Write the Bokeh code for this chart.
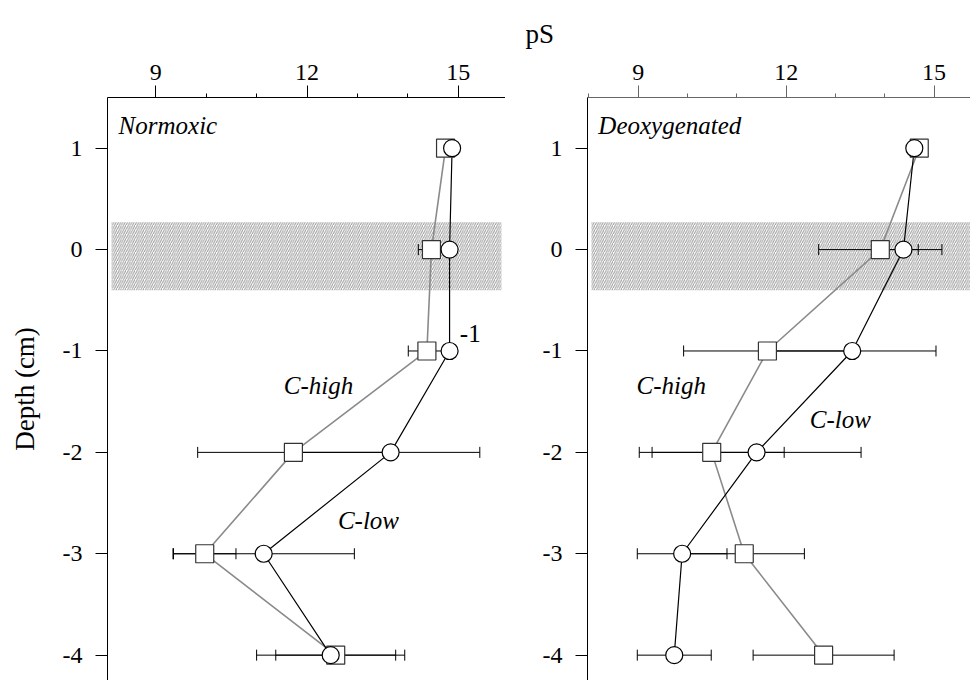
from bokeh.plotting import figure
from bokeh.models import (ColumnDataSource, Range1d, FixedTicker, Whisker, TeeHead,
                          BoxAnnotation, Label, Title)
from bokeh.layouts import row
from bokeh.embed import file_html
from bokeh.resources import INLINE

# ---------------- data ----------------
depth = [1, 0, -1, -2, -3, -4]

# Normoxic panel
norm_high = [14.75, 14.47, 14.38, 11.73, 9.97, 12.57]     # squares (C-high)
norm_high_sd = [0.0, 0.26, 0.37, 1.90, 0.62, 1.19]
norm_low = [14.88, 14.83, 14.83, 13.66, 11.14, 12.47]     # circles (C-low)
norm_low_sd = [0.0, 0.0, 0.0, 1.77, 1.80, 1.47]

# Deoxygenated panel
deox_high = [14.70, 13.91, 11.62, 10.49, 11.15, 12.76]    # squares (C-high)
deox_high_sd = [0.0, 1.25, 1.70, 1.47, 1.22, 1.43]
deox_low = [14.60, 14.38, 13.34, 11.40, 9.89, 9.73]       # circles (C-low)
deox_low_sd = [0.0, 0.30, 1.70, 2.12, 0.91, 0.75]

band_top, band_bottom = 0.27, -0.40
major_ticks = [9, 12, 15]
minor_ticks = [8, 10, 11, 13, 14, 16]
depth_ticks = [1, 0, -1, -2, -3, -4]
depth_labels = ["1", "0", "-1", "-2", "-3", "-4"]

FONT = "Liberation Serif"
GREY = "#8a8a8a"


def make_panel(width, border_left, xr, high, high_sd, low, low_sd, band_left, band_right,
               axis_color, title=None):
    kw = {}
    if title is not None:
        kw["title"] = title
    p = figure(width=width, height=680, x_range=Range1d(*xr), y_range=Range1d(-4.25, 1.5),
               x_axis_location="above", output_backend="svg", toolbar_location=None,
               min_border_left=border_left, min_border_right=0, min_border_top=97,
               min_border_bottom=0, **kw)
    p.outline_line_color = None
    p.grid.visible = False
    p.background_fill_color = "white"
    p.border_fill_color = "white"

    xa = p.xaxis[0]
    xa.ticker = FixedTicker(ticks=major_ticks, minor_ticks=minor_ticks)
    xa.major_tick_out = 12
    xa.major_tick_in = 0
    xa.minor_tick_out = 4
    xa.minor_tick_in = 0
    xa.major_label_standoff = 6
    xa.major_label_text_font = FONT
    xa.major_label_text_font_size = "24px"
    xa.major_label_text_color = "black"
    xa.axis_line_color = axis_color
    xa.major_tick_line_color = axis_color
    xa.minor_tick_line_color = axis_color

    ya = p.yaxis[0]
    ya.ticker = FixedTicker(ticks=depth_ticks, minor_ticks=[])
    ya.major_label_overrides = {t: s for t, s in zip(depth_ticks, depth_labels)}
    ya.major_tick_out = 12
    ya.major_tick_in = 0
    ya.minor_tick_out = 0
    ya.major_label_standoff = 13
    ya.major_label_text_font = FONT
    ya.major_label_text_font_size = "24px"
    ya.major_label_text_color = "black"
    ya.axis_line_color = "black"
    ya.major_tick_line_color = "black"

    box = BoxAnnotation(top=band_top, bottom=band_bottom, left=band_left, right=band_right,
                        fill_alpha=0, line_color=None, hatch_pattern="/",
                        hatch_color="#9a9a9a", hatch_scale=4.5, hatch_weight=1.0,
                        level="underlay")
    p.add_layout(box)

    src_h = ColumnDataSource(dict(y=depth, x=high, lo=[a - b for a, b in zip(high, high_sd)],
                                  hi=[a + b for a, b in zip(high, high_sd)]))
    src_l = ColumnDataSource(dict(y=depth, x=low, lo=[a - b for a, b in zip(low, low_sd)],
                                  hi=[a + b for a, b in zip(low, low_sd)]))
    for src in (src_h, src_l):
        w = Whisker(source=src, base="y", lower="lo", upper="hi", dimension="width",
                    line_color="black", line_width=1,
                    lower_head=TeeHead(size=11, line_color="black", line_width=1),
                    upper_head=TeeHead(size=11, line_color="black", line_width=1))
        p.add_layout(w)

    p.line("x", "y", source=src_h, line_color=GREY, line_width=1.6)
    p.line("x", "y", source=src_l, line_color="black", line_width=1.2)
    p.scatter("x", "y", source=src_h, marker="square", size=18, fill_color="white",
              line_color="#333333", line_width=1.2)
    p.scatter("x", "y", source=src_l, marker="circle", size=17, fill_color="white",
              line_color="black", line_width=1.2)
    return p


title = Title(text="pS", align="left", offset=-62, text_font=FONT, text_font_size="27px",
              text_font_style="normal", text_color="black", standoff=26)

p1 = make_panel(505, 107, (8.04, 15.94), norm_high, norm_high_sd, norm_low, norm_low_sd,
                8.12, 15.86, "black")
p2 = make_panel(465, 82, (7.97, 15.74), deox_high, deox_high_sd, deox_low, deox_low_sd,
                8.05, None, "#666666", title=title)

p1.yaxis[0].axis_label = "Depth (cm)"
p1.yaxis[0].axis_label_text_font = FONT
p1.yaxis[0].axis_label_text_font_size = "27px"
p1.yaxis[0].axis_label_text_font_style = "normal"
p1.yaxis[0].axis_label_text_color = "black"
p1.yaxis[0].axis_label_standoff = 20


def lab(p, x, y, text, align="center", italic=True, size="25px"):
    p.add_layout(Label(x=x, y=y, text=text, text_font=FONT, text_font_size=size,
                       text_font_style="italic" if italic else "normal",
                       text_align=align, text_baseline="middle", text_color="black"))


lab(p1, 8.26, 1.22, "Normoxic", align="left")
lab(p1, 12.23, -1.34, "C-high")
lab(p1, 13.22, -2.67, "C-low")
lab(p1, 15.24, -0.83, "-1", italic=False)

lab(p2, 8.19, 1.22, "Deoxygenated", align="left")
lab(p2, 9.67, -1.34, "C-high")
lab(p2, 13.10, -1.68, "C-low")

layout = row(p1, p2)
open("out.html", "w").write(file_html(layout, INLINE))
